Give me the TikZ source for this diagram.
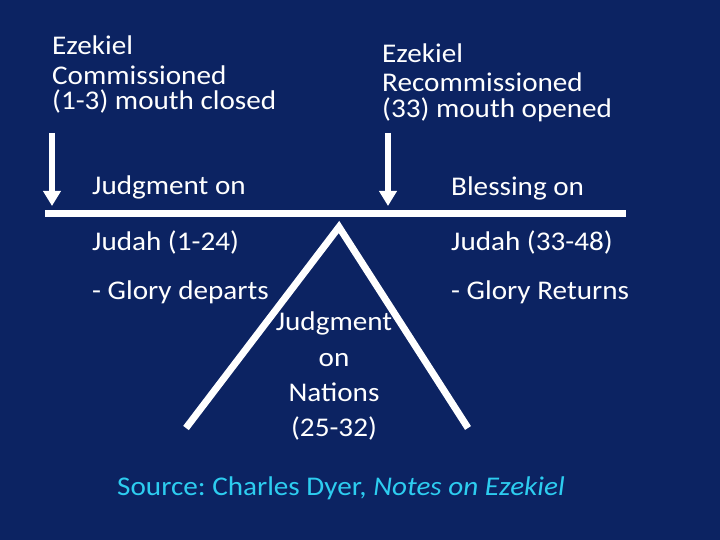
\documentclass[tikz,border=0pt]{standalone}
\usepackage{fontspec}
\setmainfont{Carlito}[FakeStretch=1.08]
\usetikzlibrary{arrows.meta}
\frenchspacing
\definecolor{bgnavy}{RGB}{12,35,98}
\definecolor{srccyan}{RGB}{45,205,240}
\tikzset{
  txt/.style={text=white, inner sep=0pt, anchor=base west, font=\fontsize{27}{32}\selectfont},
  ctxt/.style={text=white, inner sep=0pt, anchor=base, font=\fontsize{27}{32}\selectfont},
  srctxt/.style={text=srccyan, inner sep=0pt, anchor=base west, font=\fontsize{27}{32}\selectfont},
  downarrow/.style={draw=white, line width=6pt, -{Triangle[width=17pt,length=15pt]}},
  beam/.style={draw=white, line width=7.5pt},
  wedge/.style={draw=white, line width=7pt, line join=miter},
}
\begin{document}
\begin{tikzpicture}[x=1pt,y=-1pt]
\fill[bgnavy] (0,0) rectangle (720,540);
\useasboundingbox (0,0) rectangle (720,540);

% top-left block
\node[txt] (ezL1) at (52,55) {Ezekiel};
\node[txt] (ezL2) at (52,85) {Commissioned};
\node[txt] (ezL3) at (52,110) {(1-3) mouth closed};

% top-right block
\node[txt] (ezR1) at (382,63) {Ezekiel};
\node[txt] (ezR2) at (382,92) {Recommissioned};
\node[txt] (ezR3) at (382,118) {(33) mouth opened};

% arrows
\coordinate (aLtop) at (52,133);
\coordinate (aLtip) at (52,206);
\coordinate (aRtop) at (388,133);
\coordinate (aRtip) at (388,206);
\draw[downarrow] (aLtop) -- (aLtip);
\draw[downarrow] (aRtop) -- (aRtip);

% beam
\coordinate (beamL) at (45,213.5);
\coordinate (beamR) at (626,213.5);
\draw[beam] (beamL) -- (beamR);

% inverted V
\coordinate (apex) at (339,227);
\coordinate (legL) at (186,428);
\coordinate (legR) at (468,428);
\draw[wedge] (legL) -- (apex) -- (legR);

% left side texts
\node[txt] (jL1) at (92,195) {Judgment on};
\node[txt] (jL2) at (92,250) {Judah (1-24)};
\node[txt] (jL3) at (92,299) {- Glory departs};

% right side texts
\node[txt] (bR1) at (451,196) {Blessing on};
\node[txt] (bR2) at (451,250) {Judah (33-48)};
\node[txt] (bR3) at (451,299) {- Glory Returns};

% nations
\node[ctxt] (n1) at (334,330) {Judgment};
\node[ctxt] (n2) at (334,366) {on};
\node[ctxt] (n3) at (334,401) {Nations};
\node[ctxt] (n4) at (334,436) {(25-32)};

% source
\node[srctxt] (src) at (117,495) {Source: Charles Dyer, \textit{Notes on Ezekiel}};
\end{tikzpicture}
\end{document}
